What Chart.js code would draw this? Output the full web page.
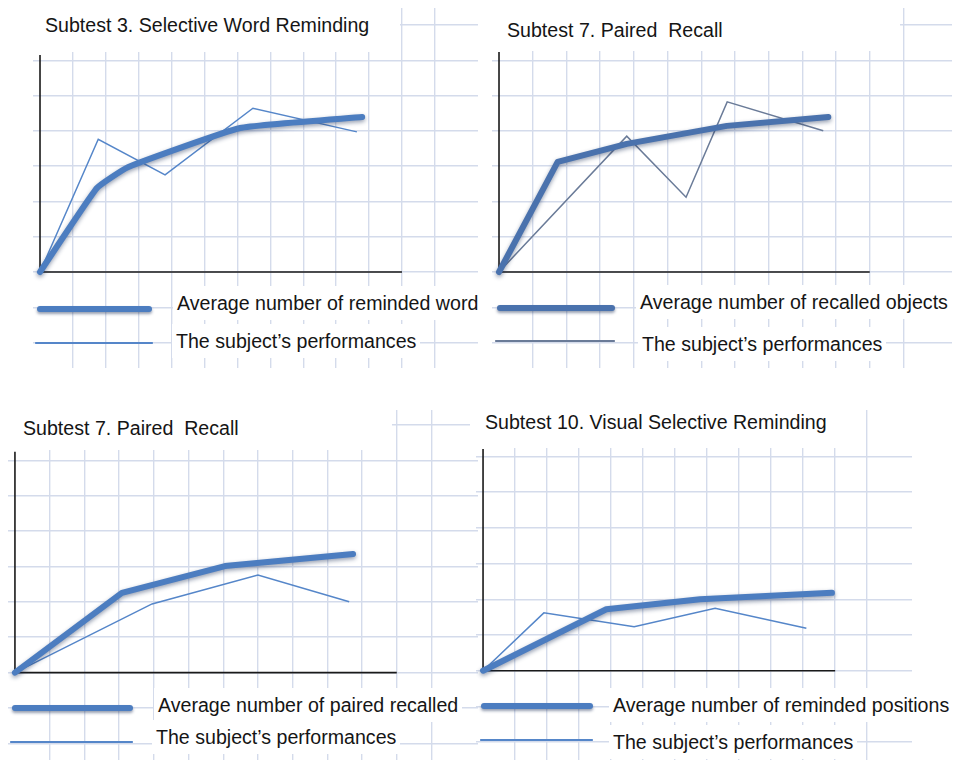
<!DOCTYPE html>
<html>
<head>
<meta charset="utf-8">
<script src="https://cdn.jsdelivr.net/npm/chart.js@4.4.1/dist/chart.umd.min.js"></script>
<style>
  html, body { margin: 0; padding: 0; background: #fff; }
  #wrap { position: relative; width: 955px; height: 762px; overflow: hidden; background: #fff; }
  canvas { position: absolute; }
  .title, .ltext {
    position: absolute; background: #fff; color: #151515;
    font-family: "Liberation Sans", Arial, sans-serif; font-size: 19.6px; line-height: 22px;
    white-space: nowrap; box-sizing: border-box;
  }
  .ltext { line-height: 34px; padding: 0 4px; }
  .swatch { position: absolute; }
</style>
</head>
<body>
<div id="wrap"></div>
<script>
// values are in grid cells: x = cells from the y axis, y = cells above the x axis

const titles = [
  'Subtest 3. Selective Word Reminding',
  'Subtest 7. Paired\u00a0 Recall',
  'Subtest 7. Paired\u00a0 Recall',
  'Subtest 10. Visual Selective Reminding'
];

const averageLabels = [
  'Average number of reminded word',
  'Average number of recalled objects',
  'Average number of paired recalled',
  'Average number of reminded positions'
];
const subjectLabel = 'The subject\u2019s performances';

// Subtest 3
const wordAvgX = [0, 1.73, 2.67, 6.08, 9.79];
const wordAvgY = [0, 2.38, 2.97, 4.08, 4.39];
const wordSubX = [0, 1.77, 3.8, 6.47, 9.63];
const wordSubY = [0, 3.76, 2.75, 4.64, 3.97];

// Subtest 7 (objects)
const objAvgX = [0, 1.74, 3.79, 6.76, 9.77];
const objAvgY = [0, 3.12, 3.63, 4.14, 4.39];
const objSubX = [0, 3.79, 5.55, 6.77, 9.62];
const objSubY = [0, 3.85, 2.12, 4.82, 4.0];

// Subtest 7 (pairs)
const pairAvgX = [0, 3.08, 6.05, 9.74];
const pairAvgY = [0, 2.25, 3.01, 3.35];
const pairSubX = [0, 3.95, 7.0, 9.63];
const pairSubY = [0, 1.94, 2.76, 2.0];

// Subtest 10
const posAvgX = [0, 3.85, 6.78, 10.9];
const posAvgY = [0, 1.72, 2.0, 2.18];
const posSubX = [0, 1.9, 4.72, 7.25, 10.1];
const posSubY = [0, 1.62, 1.23, 1.75, 1.19];

const zip = (xs, ys) => xs.map((x, i) => ({ x, y: ys[i] }));

// ── layout of the four panels (pixels / axis ranges) ──
const panels = [
  { box: [33, 8, 445, 360], x: [-0.213, 13.31], y: [-2.72, 7.48], yTop: 6.15,
    avg: [wordAvgX, wordAvgY], sub: [wordSubX, wordSubY], tension: 0.12,
    avgColor: '#4c7dc0', subColor: '#5586c9',
    tBox: [0, 0, 400, 52, 14, 45],
    legend: [[37, 152, 309, 177, 303], [35, 153, 343, 176, 341]] },
  { box: [492, 8, 460, 360], x: [-0.208, 13.44], y: [-2.72, 7.48], yTop: 6.23,
    avg: [objAvgX, objAvgY], sub: [objSubX, objSubY], tension: 0,
    avgColor: '#4a72ad', subColor: '#6a7b98',
    tBox: [482, 0, 418, 51, 19, 25],
    legend: [[497, 615, 308, 640, 302], [495, 615, 341, 642, 344]] },
  { box: [8, 410, 470, 350], x: [-0.2, 13.34], y: [-2.47, 7.42], yTop: 6.24,
    avg: [pairAvgX, pairAvgY], sub: [pairSubX, pairSubY], tension: 0,
    avgColor: '#4c7dc0', subColor: '#5586c9',
    tBox: [0, 404, 392, 46, 13, 23],
    legend: [[12, 133, 708, 158, 705], [10, 133, 742, 156, 737]] },
  { box: [476, 410, 436, 350], x: [-0.22, 13.4], y: [-2.5, 7.3], yTop: 6.21,
    avg: [posAvgX, posAvgY], sub: [posSubX, posSubY], tension: 0,
    avgColor: '#4c7dc0', subColor: '#5586c9',
    tBox: [470, 404, 366, 44, 7, 15],
    legend: [[481, 593, 706, 613, 705], [480, 593, 740, 613, 742]] }
];

/** 검은 축 (0 에서 시작) */
const blackAxes = {
  id: 'blackAxes',
  beforeDatasetsDraw(chart, args, opts) {
    const { ctx, scales: { x, y } } = chart;
    const x0 = x.getPixelForValue(0), x1 = x.getPixelForValue(opts.xEnd);
    const y0 = y.getPixelForValue(0), y1 = y.getPixelForValue(opts.yTop);
    ctx.save();
    ctx.strokeStyle = '#1a1a1a';
    ctx.lineWidth = 1.6;
    ctx.beginPath();
    ctx.moveTo(x0, y1);
    ctx.lineTo(x0, y0);
    ctx.lineTo(x1, y0);
    ctx.stroke();
    ctx.restore();
  }
};

/** 굵은 선 그림자 */
const thickShadow = {
  id: 'thickShadow',
  beforeDatasetDraw(chart, args) {
    if (args.index !== 0) return;
    const c = chart.ctx;
    c.save();
    c.shadowColor = 'rgba(25,45,85,0.45)';
    c.shadowBlur = 4;
    c.shadowOffsetY = 2;
  },
  afterDatasetDraw(chart, args) {
    if (args.index === 0) chart.ctx.restore();
  }
};

const gridScale = (range) => ({
  type: 'linear', min: range[0], max: range[1],
  ticks: { display: false, stepSize: 1 },
  grid: { color: '#d4dbeb', lineWidth: 1.4, drawTicks: false },
  border: { display: false },
  afterBuildTicks: s => { s.ticks = s.ticks.filter(t => Number.isInteger(t.value)); }
});

const wrap = document.getElementById('wrap');

panels.forEach((p, i) => {
  const cv = document.createElement('canvas');
  const [l, t, w, h] = p.box;
  cv.width = w; cv.height = h;
  cv.style.left = l + 'px'; cv.style.top = t + 'px';
  cv.style.width = w + 'px'; cv.style.height = h + 'px';
  wrap.appendChild(cv);

  const chart = new Chart(cv.getContext('2d'), {
    type: 'line',
    data: {
      datasets: [
        { label: averageLabels[i], data: zip(p.avg[0], p.avg[1]),
          borderColor: p.avgColor, borderWidth: 6, pointRadius: 0,
          tension: p.tension, borderCapStyle: 'round', borderJoinStyle: 'round', fill: false },
        { label: subjectLabel, data: zip(p.sub[0], p.sub[1]),
          borderColor: p.subColor, borderWidth: 1.5, pointRadius: 0, tension: 0, fill: false }
      ]
    },
    options: {
      responsive: false,
      animation: false,
      layout: { padding: 0 },
      plugins: {
        legend: { display: false },
        tooltip: { enabled: false },
        blackAxes: { xEnd: 11, yTop: p.yTop }
      },
      scales: { x: gridScale(p.x), y: gridScale(p.y) }
    },
    plugins: [blackAxes, thickShadow]
  });

  // 제목
  const [tl, tt, tw, th, padT, padL] = p.tBox;
  const title = document.createElement('div');
  title.className = 'title';
  title.textContent = titles[i];
  Object.assign(title.style, {
    left: tl + 'px', top: tt + 'px', width: tw + 'px', height: th + 'px',
    paddingTop: padT + 'px', paddingLeft: padL + 'px'
  });
  wrap.appendChild(title);

  // 범례 (데이터셋 스타일에서 생성)
  chart.data.datasets.forEach((ds, k) => {
    const [s0, s1, sy, tx, ty] = p.legend[k];
    const sw = document.createElement('div');
    sw.className = 'swatch';
    Object.assign(sw.style, {
      left: s0 + 'px', width: (s1 - s0) + 'px',
      top: (sy - ds.borderWidth / 2) + 'px', height: ds.borderWidth + 'px',
      background: ds.borderColor,
      borderRadius: (ds.borderWidth / 2) + 'px',
      boxShadow: k === 0 ? '0 2px 3px rgba(25,45,85,0.45)' : 'none'
    });
    wrap.appendChild(sw);

    const txt = document.createElement('div');
    txt.className = 'ltext';
    txt.textContent = ds.label;
    Object.assign(txt.style, { left: (tx - 4) + 'px', top: (ty - 17) + 'px' });
    wrap.appendChild(txt);
  });
});
</script>
</body>
</html>
